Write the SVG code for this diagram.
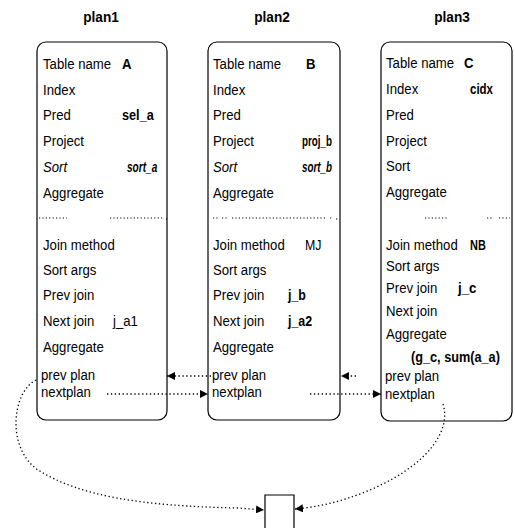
<svg xmlns="http://www.w3.org/2000/svg" width="515" height="528" viewBox="0 0 515 528">
  <style>
    text { font-family: "Liberation Sans", Arial, sans-serif; font-size: 15.5px; fill: #000; }
    .title { font-weight: bold; text-anchor: middle; }
    .b { font-weight: bold; }
    .i { font-style: italic; }
    .sm { font-size: 14px; }
    .box { fill: #fff; stroke: #000; stroke-width: 1.2; }
    .sep { stroke: #000; stroke-width: 1.2; stroke-dasharray: 1.2 2.2; fill: none; }
    .link { stroke: #000; stroke-width: 1.3; stroke-dasharray: 1.3 2.6; fill: none; }
  </style>
  <defs>
    <marker id="arrow" viewBox="0 0 10 10" refX="10" refY="5" markerWidth="8" markerHeight="8" markerUnits="userSpaceOnUse" orient="auto">
      <path d="M0,0 L10,5 L0,10 Z" fill="#000"/>
    </marker>
  </defs>
  <rect width="515" height="528" fill="#fff"/>

  <!-- plan 1 (condensed type: each label is squeezed horizontally) -->
  <g id="plan1">
    <text class="title" transform="translate(101 22) scale(0.88 1)">plan1</text>
    <rect class="box" x="37" y="42" width="130" height="378" rx="9"/>
    <text transform="translate(43 69) scale(0.85 1)">Table name</text>
    <text class="b" transform="translate(122 69) scale(0.85 1)">A</text>
    <text transform="translate(43 95) scale(0.85 1)">Index</text>
    <text transform="translate(43 120) scale(0.85 1)">Pred</text>
    <text class="b" transform="translate(122 120) scale(0.82 1)">sel_a</text>
    <text transform="translate(43 146) scale(0.85 1)">Project</text>
    <text class="i" transform="translate(43 172) scale(0.85 1)">Sort</text>
    <text class="b i sm" transform="translate(127 172) scale(0.72 1)">sort_a</text>
    <text transform="translate(43 198) scale(0.85 1)">Aggregate</text>
    <path class="sep" d="M39 218 H67 M110 218 H163 M166 219 H168"/>
    <text transform="translate(43 250) scale(0.85 1)">Join method</text>
    <text transform="translate(43 275) scale(0.85 1)">Sort args</text>
    <text transform="translate(43 300) scale(0.85 1)">Prev join</text>
    <text transform="translate(43 326) scale(0.85 1)">Next join</text>
    <text transform="translate(113 326) scale(0.85 1)">j_a1</text>
    <text transform="translate(43 352) scale(0.85 1)">Aggregate</text>
    <text transform="translate(41 380) scale(0.85 1)">prev plan</text>
    <text transform="translate(41 397) scale(0.85 1)">nextplan</text>
  </g>

  <!-- plan 2 -->
  <g id="plan2">
    <text class="title" transform="translate(272 22) scale(0.88 1)">plan2</text>
    <rect class="box" x="208" y="42" width="132" height="378" rx="9"/>
    <text transform="translate(213 69) scale(0.85 1)">Table name</text>
    <text class="b" transform="translate(306 69) scale(0.85 1)">B</text>
    <text transform="translate(213 95) scale(0.85 1)">Index</text>
    <text transform="translate(213 120) scale(0.85 1)">Pred</text>
    <text transform="translate(213 146) scale(0.85 1)">Project</text>
    <text class="b sm" transform="translate(302 146) scale(0.7 1)">proj_b</text>
    <text class="i" transform="translate(213 172) scale(0.85 1)">Sort</text>
    <text class="b i sm" transform="translate(302 172) scale(0.7 1)">sort_b</text>
    <text transform="translate(213 198) scale(0.85 1)">Aggregate</text>
    <path class="sep" d="M213 218 H218 M222 218 H227 M232 218 H325 M330 218 H333 M336 219 H338"/>
    <text transform="translate(213 250) scale(0.85 1)">Join method</text>
    <text transform="translate(305 250) scale(0.8 1)">MJ</text>
    <text transform="translate(213 275) scale(0.85 1)">Sort args</text>
    <text transform="translate(213 300) scale(0.85 1)">Prev join</text>
    <text class="b" transform="translate(288 300) scale(0.8 1)">j_b</text>
    <text transform="translate(213 326) scale(0.85 1)">Next join</text>
    <text class="b" transform="translate(288 326) scale(0.8 1)">j_a2</text>
    <text transform="translate(213 352) scale(0.85 1)">Aggregate</text>
    <text transform="translate(212 380) scale(0.85 1)">prev plan</text>
    <text transform="translate(212 397) scale(0.85 1)">nextplan</text>
  </g>

  <!-- plan 3 -->
  <g id="plan3">
    <text class="title" transform="translate(452 22) scale(0.88 1)">plan3</text>
    <rect class="box" x="381" y="42" width="131" height="379" rx="9"/>
    <text transform="translate(386 68) scale(0.85 1)">Table name</text>
    <text class="b" transform="translate(464 68) scale(0.85 1)">C</text>
    <text transform="translate(386 94) scale(0.85 1)">Index</text>
    <text class="b sm" transform="translate(470 94) scale(0.82 1)">cidx</text>
    <text transform="translate(386 120) scale(0.85 1)">Pred</text>
    <text transform="translate(386 146) scale(0.85 1)">Project</text>
    <text transform="translate(386 171) scale(0.85 1)">Sort</text>
    <text transform="translate(386 197) scale(0.85 1)">Aggregate</text>
    <path class="sep" d="M425 218 H447 M487 218 H494 M499 218 H510"/>
    <text transform="translate(386 250) scale(0.85 1)">Join method</text>
    <text class="b sm" transform="translate(470 250) scale(0.78 1)">NB</text>
    <text transform="translate(386 271) scale(0.85 1)">Sort args</text>
    <text transform="translate(386 293) scale(0.85 1)">Prev join</text>
    <text class="b" transform="translate(458 293) scale(0.85 1)">j_c</text>
    <text transform="translate(386 316) scale(0.85 1)">Next join</text>
    <text transform="translate(386 339) scale(0.85 1)">Aggregate</text>
    <text class="b" transform="translate(411 362) scale(0.82 1)">(g_c, sum(a_a)</text>
    <text transform="translate(385 381) scale(0.85 1)">prev plan</text>
    <text transform="translate(385 399) scale(0.85 1)">nextplan</text>
  </g>

  <!-- terminal box -->
  <g id="end">
    <path class="box" d="M265 530 V495 H294 V530"/>
  </g>

  <!-- plan links -->
  <g id="connectors">
    <path class="link" d="M211 376 H167" marker-end="url(#arrow)"/>
    <path class="link" d="M107 394 H208" marker-end="url(#arrow)"/>
    <path class="link" d="M356 376 H341" marker-end="url(#arrow)"/>
    <path class="link" d="M310 394 H381" marker-end="url(#arrow)"/>
    <path class="link" d="M36 380 C12 392, 6 448, 38 470 C80 496, 140 506, 238 508 L264 510" marker-end="url(#arrow)"/>
    <path class="link" d="M443 404 C452 432, 425 468, 365 492 C340 502, 318 507, 295 509" marker-end="url(#arrow)"/>
  </g>
</svg>
